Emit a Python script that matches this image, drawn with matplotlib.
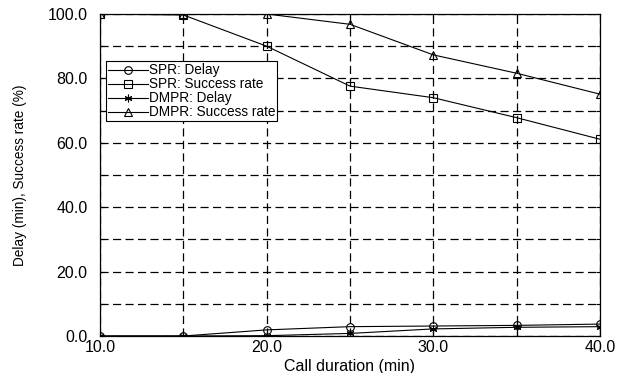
import matplotlib.pyplot as plt
import numpy as np

plt.rcParams['font.family'] = ['Liberation Sans', 'DejaVu Sans']

# Data
call_duration = [10, 15, 20, 25, 30, 35, 40]
spr_delay = [0.0, 0.0, 1.9, 2.9, 3.1, 3.3, 3.7]
spr_success = [100.0, 99.7, 90.0, 77.6, 74.0, 67.8, 61.1]
dmpr_delay = [0.0, 0.0, 0.1, 0.8, 2.2, 2.7, 2.9]
dmpr_success = [100.0, 100.0, 100.0, 96.8, 87.3, 81.6, 75.1]

fig = plt.figure(figsize=(6.18, 3.73), dpi=100)
ax = fig.add_axes([100 / 618, 37 / 373, 500 / 618, 322 / 373])

common = dict(color="black", linewidth=0.8, markersize=5.5, markerfacecolor="none",
              markeredgecolor="black", markeredgewidth=0.8)
ax.plot(call_duration, spr_delay, marker="o", label="SPR: Delay", **common)
ax.plot(call_duration, spr_success, marker="s", label="SPR: Success rate", **common)
ax.plot(call_duration, dmpr_delay, marker=(6, 2, 0), label="DMPR: Delay", **common)
ax.plot(call_duration, dmpr_success, marker="^", label="DMPR: Success rate", **common)

ax.set_xlim(10, 40)
ax.set_ylim(0, 100)
ax.set_xticks([10, 20, 30, 40])
ax.set_xticklabels(["10.0", "20.0", "30.0", "40.0"])
ax.set_xticks(np.arange(10, 41, 5), minor=True)
ax.set_yticks([0, 20, 40, 60, 80, 100])
ax.set_yticklabels(["0.0", "20.0", "40.0", "60.0", "80.0", "100.0"])
ax.set_yticks(np.arange(0, 101, 10), minor=True)
ax.tick_params(which="both", direction="in", length=3, width=0.8,
               top=True, right=True, labelsize=11.5)
ax.tick_params(axis="x", pad=3)
ax.tick_params(axis="y", pad=9)
ax.grid(True, which="both", color="black", linestyle=(0, (6.5, 3.5)), linewidth=0.9)

for s in ax.spines.values():
    s.set_linewidth(0.9)

ax.set_xlabel("Call duration (min)", fontsize=11.5, labelpad=3)
ax.set_ylabel("Delay (min), Success rate (%)", fontsize=9.8, labelpad=15)

leg = ax.legend(loc="upper left", bbox_to_anchor=(0.012, 0.853), fontsize=9.8,
                handlelength=2.9, handletextpad=0.1, borderpad=0.15, labelspacing=0.0,
                fancybox=False, framealpha=1, edgecolor="black", borderaxespad=0)
leg.get_frame().set_linewidth(0.8)

plt.savefig("out.png", dpi=100)
